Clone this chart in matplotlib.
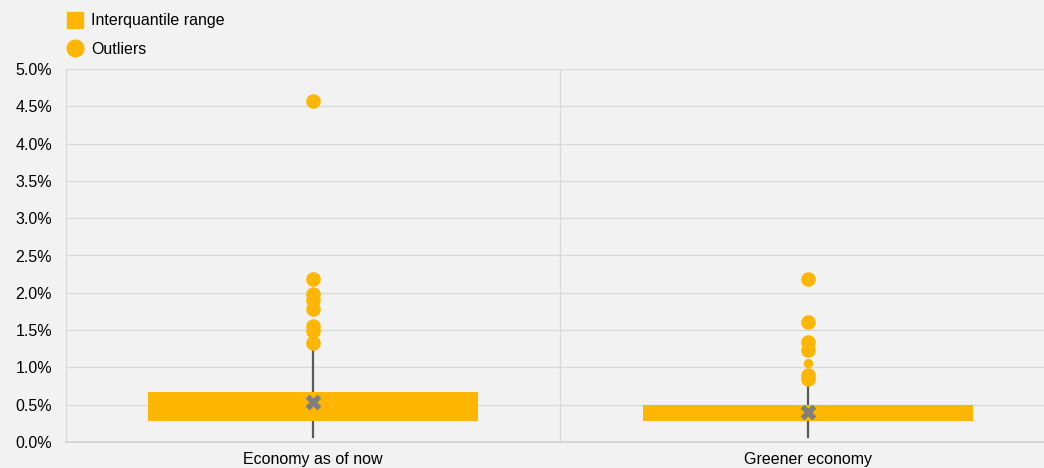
import matplotlib
matplotlib.use("Agg")
import matplotlib.pyplot as plt
from matplotlib.lines import Line2D
from matplotlib.ticker import FuncFormatter

plt.rcParams['font.family'] = ['Liberation Sans', 'DejaVu Sans']

categories = ["Economy as of now", "Greener economy"]
q1 = [0.28, 0.28]
q3 = [0.67, 0.49]
means = [0.53, 0.40]
whisker_lo = [0.07, 0.07]
whisker_hi = [1.25, 0.78]
outliers = [
    [4.57, 2.185, 1.98, 1.91, 1.78, 1.555, 1.49, 1.33],
    [2.185, 1.61, 1.335, 1.23, 0.90, 0.85],
]
small_outliers = [[], [1.06]]
y_ticks = [0.0, 0.5, 1.0, 1.5, 2.0, 2.5, 3.0, 3.5, 4.0, 4.5, 5.0]

ORANGE = "#FFB600"
BG = "#F2F2F2"
GRID = "#D9D9D9"
FS = 11.5

W, H = 1044, 468
fig = plt.figure(figsize=(W / 100, H / 100), dpi=100, facecolor=BG)
ax = fig.add_axes([66 / W, (H - 442) / H, (W - 66) / W, (442 - 69) / H], facecolor=BG)

xs = list(range(len(categories)))
for i in xs:
    ax.plot([i, i], [whisker_lo[i], whisker_hi[i]], color="#595959", lw=1.6, zorder=2)
ax.bar(xs, [b - a for a, b in zip(q1, q3)], bottom=q1, width=0.667, color=ORANGE, zorder=3)
for i in xs:
    ax.scatter([i] * len(outliers[i]), outliers[i], s=110, color=ORANGE, zorder=4, linewidths=0)
    if small_outliers[i]:
        ax.scatter([i] * len(small_outliers[i]), small_outliers[i], s=45, color=ORANGE, zorder=4, linewidths=0)
ax.scatter(xs, means, marker="X", s=130, color="#7F7F7F", zorder=5, linewidths=0)

ax.set_xlim(-0.499, 1.477)
ax.set_ylim(0, 5.0)
ax.set_yticks(y_ticks)
ax.yaxis.set_major_formatter(FuncFormatter(lambda v, p: f"{v:.1f}%"))
ax.set_xticks(xs)
ax.set_xticklabels(categories)
ax.tick_params(axis="both", length=0, labelsize=FS, colors="#000000")
ax.tick_params(axis="x", pad=7)
ax.tick_params(axis="y", pad=10)
ax.grid(axis="y", color=GRID, lw=1.0, zorder=0)
ax.axvline(0.5, color=GRID, lw=1.0, zorder=0)
for s in ["top", "right"]:
    ax.spines[s].set_visible(False)
ax.spines["left"].set_color(GRID)
ax.spines["bottom"].set_color("#D0D0D0")
ax.spines["bottom"].set_linewidth(1.2)

handles = [
    Line2D([], [], marker="s", linestyle="none", markersize=12, color=ORANGE),
    Line2D([], [], marker="o", linestyle="none", markersize=12, color=ORANGE),
]
fig.legend(handles, ["Interquantile range", "Outliers"], loc="upper left",
           bbox_to_anchor=(57 / W, 1 - 7 / H), frameon=False, fontsize=FS,
           handletextpad=0.35, labelspacing=0.85, borderaxespad=0, handlelength=1.4)

fig.savefig("out.png", dpi=100, facecolor=BG)
